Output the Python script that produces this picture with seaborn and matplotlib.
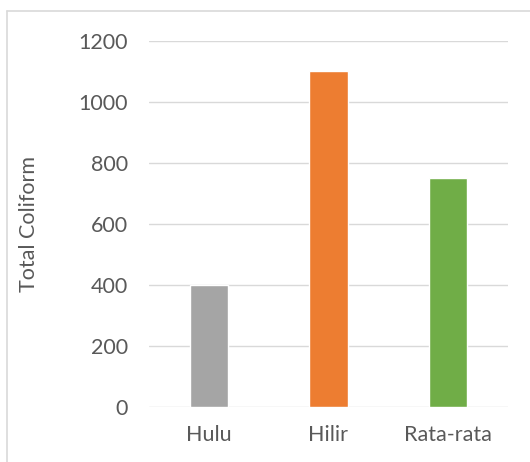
import matplotlib
matplotlib.use("Agg")
import matplotlib.pyplot as plt
from matplotlib.lines import Line2D
import seaborn as sns
import pandas as pd

categories = ["Hulu", "Hilir", "Rata-rata"]
values = [400, 1100, 750]
colors = ["#A5A5A5", "#ED7D31", "#70AD47"]
y_ticks = [0, 200, 400, 600, 800, 1000, 1200]
y_label = "Total Coliform"

sns.set_theme(style="white")
plt.rcParams["font.family"] = ["Lato", "DejaVu Sans"]

df = pd.DataFrame({"cat": categories, "val": values})

W, H = 530, 462
L, R, T, B = 149, 508, 41, 407
fig = plt.figure(figsize=(W / 100, H / 100), dpi=100)
ax = fig.add_axes([L / W, (H - B) / H, (R - L) / W, (B - T) / H])

sns.barplot(data=df, x="cat", y="val", hue="cat", palette=colors,
            order=categories, hue_order=categories, width=0.32,
            legend=False, ax=ax, saturation=1)

ax.set_ylim(0, 1200)
ax.set_xlim(-0.5, 2.5)
ax.set_yticks(y_ticks)
ax.set_yticklabels([str(t) for t in y_ticks])
ax.yaxis.grid(True, color="#D9D9D9", linewidth=1.0)
ax.set_axisbelow(True)
for s in ax.spines.values():
    s.set_visible(False)
ax.tick_params(axis="both", length=0, labelsize=15.5, colors="#595959")
ax.tick_params(axis="y", pad=15)
ax.tick_params(axis="x", pad=13)
ax.set_xlabel("")
ax.set_ylabel(y_label, fontsize=15.5, color="#595959")
ax.yaxis.set_label_coords((39 - L) / (R - L), 0.5)

# chart border (cropped at right and bottom)
fig.add_artist(Line2D([7 / W, 7 / W], [0, 1 - 11 / H], transform=fig.transFigure,
                      color="#D9D9D9", linewidth=1.2))
fig.add_artist(Line2D([7 / W, 1], [1 - 11 / H, 1 - 11 / H], transform=fig.transFigure,
                      color="#D9D9D9", linewidth=1.2))

fig.savefig("out.png", dpi=100, facecolor="white")
